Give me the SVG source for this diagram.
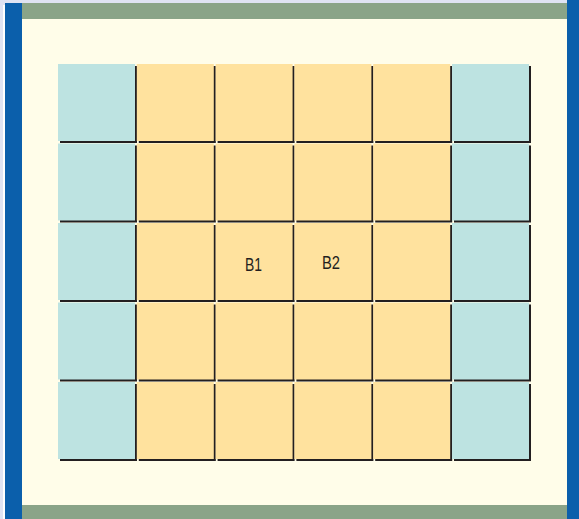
<svg xmlns="http://www.w3.org/2000/svg" width="579" height="519" viewBox="0 0 579 519">
<defs>
<style>
.sh{fill:#231f20}
.t{fill:#bde3e1}
.y{fill:#ffe29e}
.lbl{font-family:"Liberation Sans Narrow","Liberation Sans",Arial,sans-serif;font-size:18px;fill:#231f20;text-anchor:middle}
</style>
<g id="cellshape">
<rect class="sh" x="2" y="2" width="77" height="77"/>
</g>
</defs>
<rect x="0" y="0" width="579" height="519" fill="#dfe3f3"/>
<rect x="3" y="5" width="2" height="514" fill="#ffffff"/>
<rect x="5" y="3" width="17" height="516" fill="#0b5fab"/>
<rect x="567" y="0" width="12" height="519" fill="#0b5fab"/>
<rect x="22" y="3" width="545" height="16" fill="#8aa488"/>
<rect x="22" y="505" width="545" height="14" fill="#8aa488"/>
<rect x="22" y="19" width="545" height="486" fill="#fffde9"/>
<g id="grid">
<g id="r1">
<use href="#cellshape" x="58" y="64"/><rect class="t" x="58" y="64" width="77" height="77"/>
<use href="#cellshape" x="136.8" y="64"/><rect class="y" x="136.8" y="64" width="77" height="77"/>
<use href="#cellshape" x="215.6" y="64"/><rect class="y" x="215.6" y="64" width="77" height="77"/>
<use href="#cellshape" x="294.4" y="64"/><rect class="y" x="294.4" y="64" width="77" height="77"/>
<use href="#cellshape" x="373.2" y="64"/><rect class="y" x="373.2" y="64" width="77" height="77"/>
<use href="#cellshape" x="452" y="64"/><rect class="t" x="452" y="64" width="77" height="77"/>
</g>
<g id="r2">
<use href="#cellshape" x="58" y="143.5"/><rect class="t" x="58" y="143.5" width="77" height="77"/>
<use href="#cellshape" x="136.8" y="143.5"/><rect class="y" x="136.8" y="143.5" width="77" height="77"/>
<use href="#cellshape" x="215.6" y="143.5"/><rect class="y" x="215.6" y="143.5" width="77" height="77"/>
<use href="#cellshape" x="294.4" y="143.5"/><rect class="y" x="294.4" y="143.5" width="77" height="77"/>
<use href="#cellshape" x="373.2" y="143.5"/><rect class="y" x="373.2" y="143.5" width="77" height="77"/>
<use href="#cellshape" x="452" y="143.5"/><rect class="t" x="452" y="143.5" width="77" height="77"/>
</g>
<g id="r3">
<use href="#cellshape" x="58" y="223"/><rect class="t" x="58" y="223" width="77" height="77"/>
<use href="#cellshape" x="136.8" y="223"/><rect class="y" x="136.8" y="223" width="77" height="77"/>
<g id="B1"><use href="#cellshape" x="215.6" y="223"/><rect class="y" x="215.6" y="223" width="77" height="77"/>
<text class="lbl" x="253.5" y="271" textLength="17" lengthAdjust="spacingAndGlyphs">B1</text></g>
<g id="B2"><use href="#cellshape" x="294.4" y="223"/><rect class="y" x="294.4" y="223" width="77" height="77"/>
<text class="lbl" x="331" y="269" textLength="18" lengthAdjust="spacingAndGlyphs">B2</text></g>
<use href="#cellshape" x="373.2" y="223"/><rect class="y" x="373.2" y="223" width="77" height="77"/>
<use href="#cellshape" x="452" y="223"/><rect class="t" x="452" y="223" width="77" height="77"/>
</g>
<g id="r4">
<use href="#cellshape" x="58" y="302.5"/><rect class="t" x="58" y="302.5" width="77" height="77"/>
<use href="#cellshape" x="136.8" y="302.5"/><rect class="y" x="136.8" y="302.5" width="77" height="77"/>
<use href="#cellshape" x="215.6" y="302.5"/><rect class="y" x="215.6" y="302.5" width="77" height="77"/>
<use href="#cellshape" x="294.4" y="302.5"/><rect class="y" x="294.4" y="302.5" width="77" height="77"/>
<use href="#cellshape" x="373.2" y="302.5"/><rect class="y" x="373.2" y="302.5" width="77" height="77"/>
<use href="#cellshape" x="452" y="302.5"/><rect class="t" x="452" y="302.5" width="77" height="77"/>
</g>
<g id="r5">
<use href="#cellshape" x="58" y="382"/><rect class="t" x="58" y="382" width="77" height="77"/>
<use href="#cellshape" x="136.8" y="382"/><rect class="y" x="136.8" y="382" width="77" height="77"/>
<use href="#cellshape" x="215.6" y="382"/><rect class="y" x="215.6" y="382" width="77" height="77"/>
<use href="#cellshape" x="294.4" y="382"/><rect class="y" x="294.4" y="382" width="77" height="77"/>
<use href="#cellshape" x="373.2" y="382"/><rect class="y" x="373.2" y="382" width="77" height="77"/>
<use href="#cellshape" x="452" y="382"/><rect class="t" x="452" y="382" width="77" height="77"/>
</g>
</g>
<g id="connectors"></g>
</svg>
